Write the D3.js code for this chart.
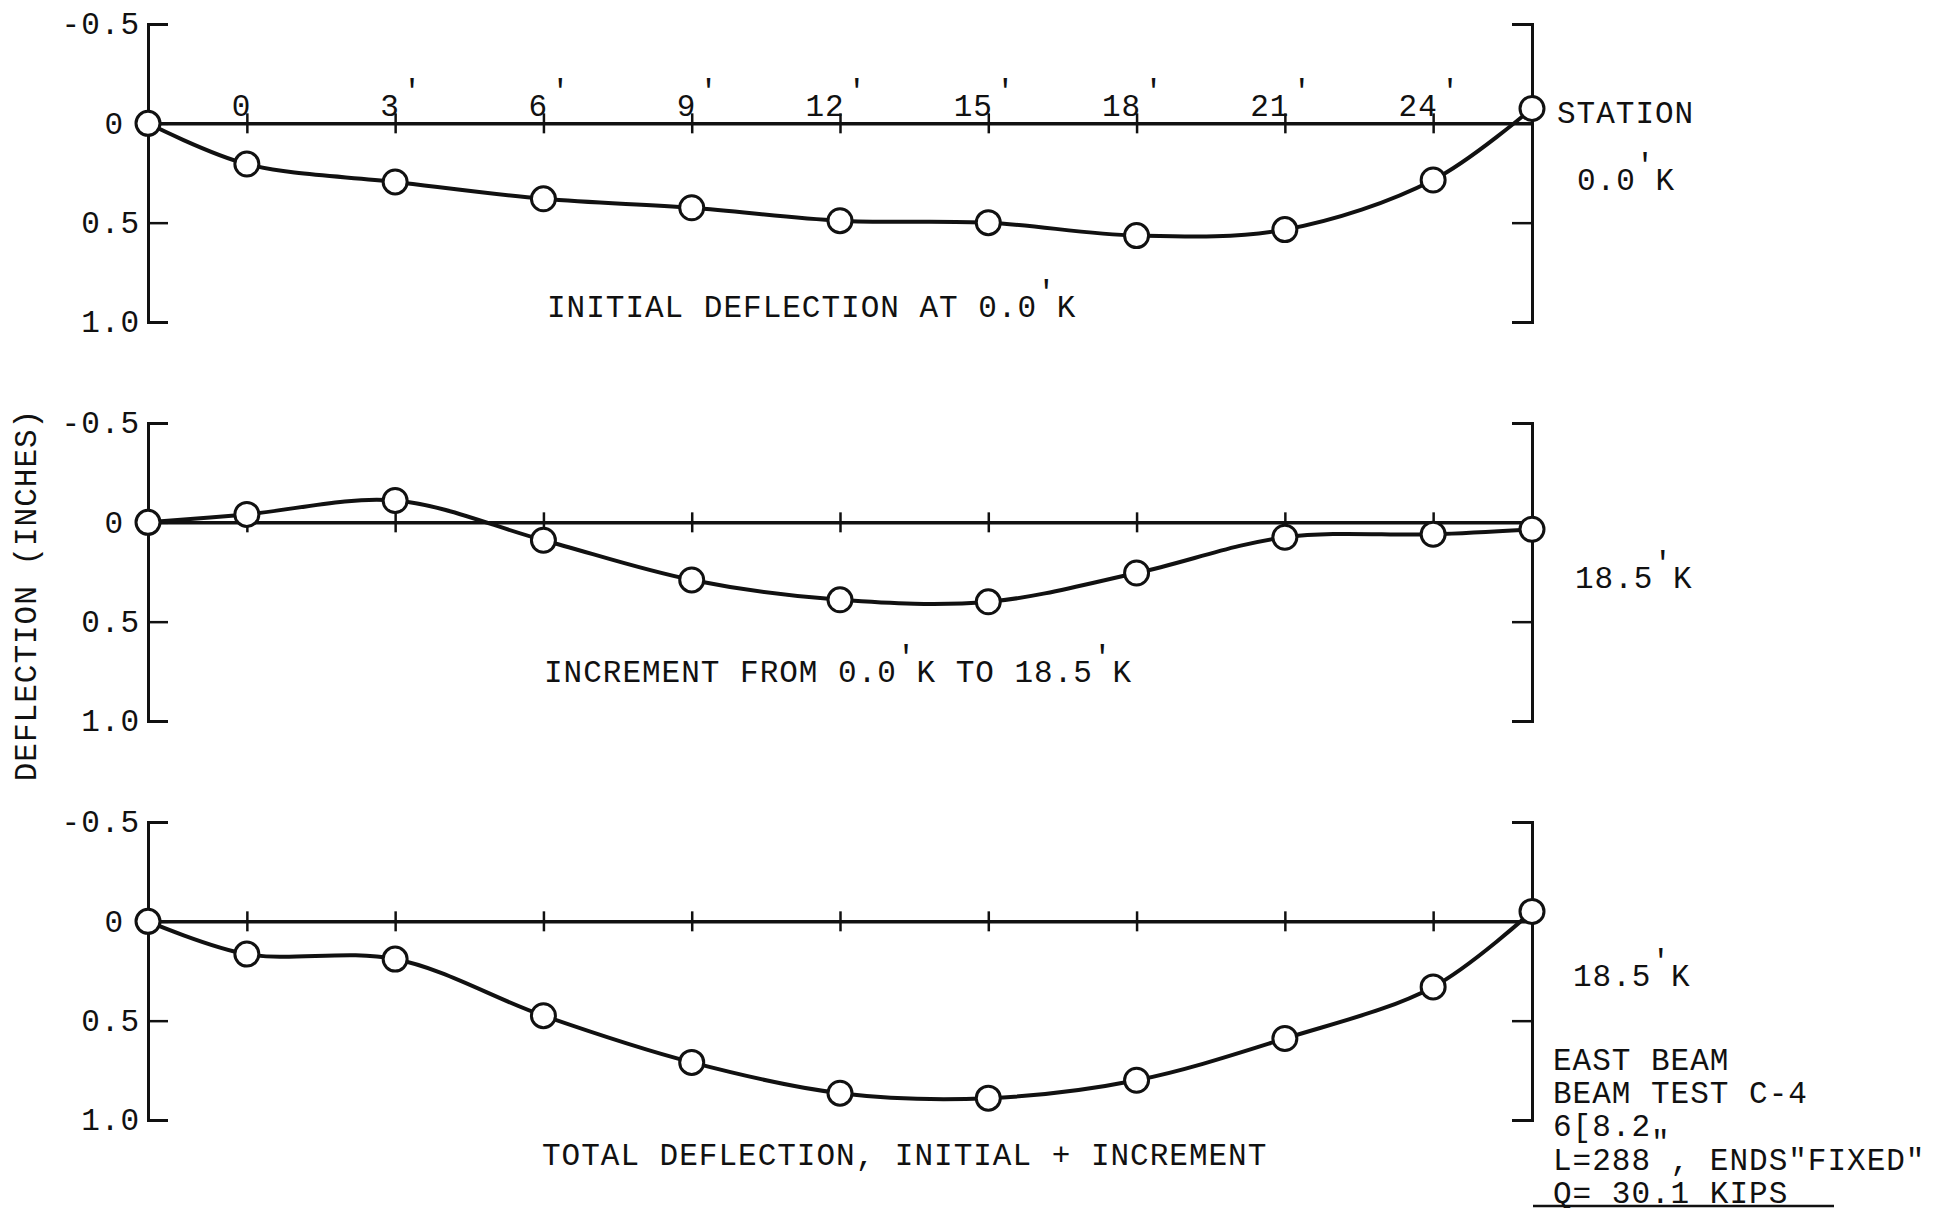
<!DOCTYPE html>
<html>
<head>
<meta charset="utf-8">
<script src="https://cdn.jsdelivr.net/npm/d3@7"></script>
<style>
  body { margin: 0; background: #fff; }
  svg text { font-family: "Liberation Mono", "DejaVu Sans Mono", monospace; font-size: 31px; letter-spacing: 1px; fill: #111; }
</style>
</head>
<body>
<svg id="chart" width="1935" height="1208"></svg>
<script>
// estações ao longo da viga (pés); -2 e 26 são os apoios
var stations = [-2, 0, 3, 6, 9, 12, 15, 18, 21, 24, 26];
var stationTicks = [0, 3, 6, 9, 12, 15, 18, 21, 24];
var stationLabels = ["0", "3'", "6'", "9'", "12'", "15'", "18'", "21'", "24'"];
var yTicks = [-0.5, 0, 0.5, 1.0];
var yTickLabels = ["-0.5", "0", "0.5", "1.0"];
// flechas (polegadas), positivo para baixo
var initial = [0, 0.205, 0.295, 0.38, 0.425, 0.49, 0.50, 0.565, 0.535, 0.285, -0.075];
var increment = [0, -0.04, -0.11, 0.09, 0.29, 0.39, 0.40, 0.255, 0.075, 0.06, 0.035];
var total = [0, 0.165, 0.19, 0.475, 0.71, 0.865, 0.89, 0.80, 0.59, 0.33, -0.05];
var titles = ["INITIAL DEFLECTION AT 0.0'K", "INCREMENT FROM 0.0'K TO 18.5'K", "TOTAL DEFLECTION, INITIAL + INCREMENT"];
var loads = ["0.0'K", "18.5'K", "18.5'K"];
var notes = ["EAST BEAM", "BEAM TEST C-4", "6[8.2", "L=288 , ENDS\"FIXED\"", "Q= 30.1 KIPS"];

var svg = d3.select("#chart");
var x = d3.scaleLinear().domain([-2, 26]).range([148, 1532]);
var passo = 19.6; // largura de um caractere

// escreve o texto com a marca ' levantada como na máquina de escrever
function escrever(sel, str, dx) {
  var partes = str.split("'");
  sel.append("tspan").text(partes[0]);
  for (var i = 1; i < partes.length; i++) {
    sel.append("tspan").attr("dy", "-0.5em").attr("dx", dx || 0).text("'");
    sel.append("tspan").attr("dy", "0.5em").text(partes[i]);
  }
}

var paineis = [
  {dados: initial, topo: 24, titulo: titles[0], tx: 547, ty: 317, carga: loads[0], cx: 1577, cy: 190},
  {dados: increment, topo: 423, titulo: titles[1], tx: 544, ty: 682, carga: loads[1], cx: 1575, cy: 588},
  {dados: total, topo: 822, titulo: titles[2], tx: 542, ty: 1165, carga: loads[2], cx: 1573, cy: 986}
];

paineis.forEach(function(p, k) {
  var y = d3.scaleLinear().domain([-0.5, 1.0]).range([p.topo, p.topo + 298]);
  var g = svg.append("g");

  // eixo da esquerda
  var eixoEsq = g.append("g").attr("transform", "translate(" + x(-2) + ",0)")
    .call(d3.axisLeft(y).tickValues(yTicks).tickSizeInner(-20).tickSizeOuter(-20).tickPadding(8)
      .tickFormat(function(d, i) { return yTickLabels[i]; }));
  eixoEsq.selectAll(".tick text").filter(function(d) { return d === 0; }).attr("x", -24);
  eixoEsq.select(".domain").attr("stroke-width", 3);

  // colchete da direita
  var eixoDir = g.append("g").attr("transform", "translate(" + x(26) + ",0)")
    .call(d3.axisRight(y).tickValues([0.5]).tickSizeInner(-20).tickSizeOuter(-20).tickFormat(""));
  eixoDir.select(".domain").attr("stroke-width", 3);

  // linha do zero com as estações
  var eixoX = g.append("g").attr("transform", "translate(0," + y(0) + ")")
    .call(d3.axisBottom(x).tickValues(stationTicks).tickSize(10).tickSizeOuter(0).tickFormat(""));
  eixoX.selectAll(".tick line").attr("y1", -10);
  eixoX.select(".domain").attr("stroke-width", 3.5);

  g.selectAll("path.domain, .tick line").attr("stroke", "#111");
  g.selectAll(".tick line").attr("stroke-width", 2.5);

  if (k === 0) {
    g.selectAll("text.est").data(stationTicks).enter().append("text").attr("class", "est")
      .attr("x", function(d, i) { return x(d) - 15 - passo * (stationLabels[i].replace("'", "").length - 1); })
      .attr("y", y(0) - 7)
      .each(function(d, i) { escrever(d3.select(this), stationLabels[i], 3); });
    g.append("text").attr("x", 1557).attr("y", 123).text("STATION");
  }

  // curva da flecha
  var linha = d3.line()
    .x(function(d, i) { return x(stations[i]); })
    .y(function(d) { return y(d); })
    .curve(d3.curveCatmullRom.alpha(0.5));
  g.append("path").datum(p.dados).attr("d", linha)
    .attr("fill", "none").attr("stroke", "#111").attr("stroke-width", 4);

  g.selectAll("circle").data(p.dados).enter().append("circle")
    .attr("cx", function(d, i) { return x(stations[i]); })
    .attr("cy", function(d) { return y(d); })
    .attr("r", 12).attr("fill", "#fff").attr("stroke", "#111").attr("stroke-width", 3);

  escrever(g.append("text").attr("x", p.tx).attr("y", p.ty), p.titulo);
  escrever(g.append("text").attr("x", p.cx).attr("y", p.cy), p.carga);
});

// título do eixo vertical
svg.append("text").attr("transform", "translate(36,595) rotate(-90)")
  .attr("text-anchor", "middle").text("DEFLECTION (INCHES)");

// notas da viga
var nota = svg.selectAll("text.nota").data(notes).enter().append("text").attr("class", "nota")
  .attr("x", 1553).attr("y", function(d, i) { return 1070 + i * 33.2; })
  .text(function(d) { return d; });
// marca de polegada do L=288, batida meia linha acima
nota.filter(function(d, i) { return i === 2; }).append("tspan").attr("dy", "0.5em").text("\"");
svg.append("line").attr("x1", 1533).attr("x2", 1834).attr("y1", 1206).attr("y2", 1206)
  .attr("stroke", "#111").attr("stroke-width", 2.5);
</script>
</body>
</html>
